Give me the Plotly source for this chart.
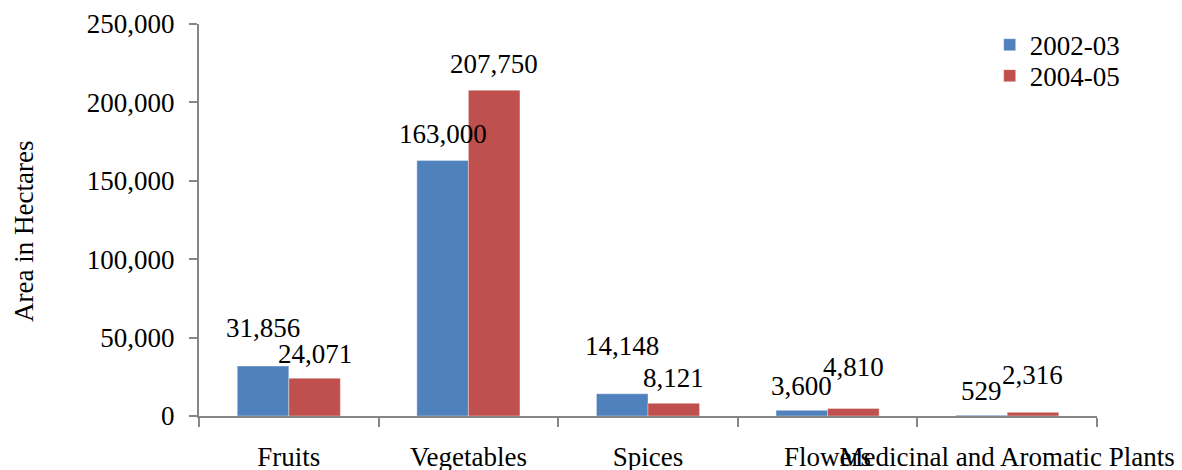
import plotly.graph_objects as go

# Area under horticultural crops (hectares)
categories = ["Fruits", "Vegetables", "Spices", "Flowers", "Medicinal and Aromatic Plants"]
series_names = ["2002-03", "2004-05"]
area_2002_03 = [31856, 163000, 14148, 3600, 529]
area_2004_05 = [24071, 207750, 8121, 4810, 2316]
y_ticks = [0, 50000, 100000, 150000, 200000, 250000]
y_title = "Area in Hectares"

# vertical lift of each value label above its bar (px)
lift_2002_03 = [21, 9, 31, 7, 7]
lift_2004_05 = [7, 9, 8, 24, 20]

FONT = "Liberation Serif"
FS = 27
BLUE = "#4F81BD"
RED = "#C0504D"
AXIS = "#868686"

fig = go.Figure()
legend_ids = ["legend", "legend2"]
for name, vals, color, lg in [(series_names[0], area_2002_03, BLUE, legend_ids[0]),
                              (series_names[1], area_2004_05, RED, legend_ids[1])]:
    fig.add_trace(go.Bar(
        x=categories, y=vals, name=name, legend=lg,
        marker=dict(color=color, line=dict(width=0.6, color="rgba(255,255,255,0.6)")),
    ))

# value labels as annotations, centred over each bar
n = len(categories)
bar_offset = 0.1435
for vals, lifts, sign in [(area_2002_03, lift_2002_03, -1), (area_2004_05, lift_2004_05, 1)]:
    for i, (v, lift) in enumerate(zip(vals, lifts)):
        fig.add_annotation(
            x=i + sign * bar_offset, y=v, xref="x", yref="y",
            text=f"{v:,}", showarrow=False, yanchor="bottom", xanchor="center",
            yshift=lift, font=dict(family=FONT, size=FS, color="black"),
        )

# rotated y-axis title, sitting slightly below the plot's vertical centre
fig.add_annotation(
    text=y_title, xref="paper", yref="paper", x=-0.1949, y=0.472,
    xanchor="center", yanchor="middle", textangle=-90, showarrow=False,
    font=dict(family=FONT, size=FS, color="black"),
)

legend_style = dict(xanchor="left", yanchor="middle",
                    font=dict(family=FONT, size=FS, color="black"),
                    bgcolor="rgba(0,0,0,0)", itemwidth=30)

fig.update_layout(
    width=1182, height=470,
    margin=dict(l=199, r=85, t=24, b=54),
    paper_bgcolor="white", plot_bgcolor="white",
    barmode="group", bargap=0.426, bargroupgap=0,
    font=dict(family=FONT, size=FS, color="black"),
    showlegend=True,
    legend=dict(x=0.8805, y=0.946, **legend_style),
    legend2=dict(x=0.8805, y=0.867, **legend_style),
)
fig.update_xaxes(
    type="category", tickangle=0, tickson="boundaries",
    showline=True, linecolor=AXIS, linewidth=2,
    ticks="outside", ticklen=9, tickcolor=AXIS, tickwidth=2,
    ticklabelstandoff=16, showgrid=False, automargin=False,
    range=[-0.5, n - 0.5],
)
fig.update_yaxes(
    range=[0, 250000], tickvals=y_ticks, ticktext=[f"{t:,}" for t in y_ticks],
    showline=True, linecolor=AXIS, linewidth=2,
    ticks="outside", ticklen=8, tickcolor=AXIS, tickwidth=2,
    ticklabelstandoff=9, showgrid=False, zeroline=False, automargin=False,
)

fig.write_html("out.html")
